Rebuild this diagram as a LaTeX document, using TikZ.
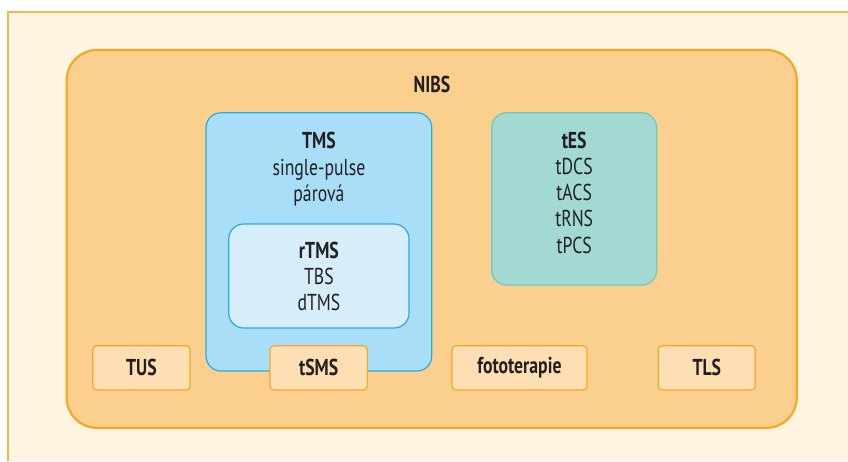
\documentclass[tikz,border=0pt]{standalone}
\usepackage{fontspec}
\setmainfont{PT Sans}[FakeStretch=0.77]
\definecolor{paper}{HTML}{FEF4E0}
\definecolor{frameline}{HTML}{F6B64A}
\definecolor{nibsfill}{HTML}{FBCF8E}
\definecolor{nibsline}{HTML}{F8A624}
\definecolor{tmsfill}{HTML}{A8DEF8}
\definecolor{tmsline}{HTML}{2AAAE2}
\definecolor{rtmsfill}{HTML}{D6EEFA}
\definecolor{tesfill}{HTML}{A2DAD3}
\definecolor{tesline}{HTML}{6DC8BD}
\definecolor{smallfill}{HTML}{FDDFB3}
\definecolor{ink}{HTML}{231F20}
\tikzset{
  box/.style={rectangle, inner sep=0pt, line width=1.5pt},
  nibsbox/.style={box, draw=nibsline, fill=nibsfill, line width=2.2pt, rounded corners=30pt},
  tmsbox/.style={box, draw=tmsline, fill=tmsfill, rounded corners=15pt, line width=1.2pt},
  rtmsbox/.style={box, draw=tmsline, fill=rtmsfill, rounded corners=15pt, line width=1.2pt},
  tesbox/.style={box, draw=tesline, fill=tesfill, rounded corners=15pt, line width=1.2pt},
  smallbox/.style={box, draw=nibsline, fill=smallfill, rounded corners=4pt, line width=1.2pt,
    minimum height=44.3pt, font=\fontsize{23}{27}\selectfont\bfseries, text=ink},
  lbl/.style={anchor=base, inner sep=0pt, font=\fontsize{23}{27}\selectfont, text=ink},
  ttl/.style={lbl, font=\fontsize{23}{27}\selectfont\bfseries},
}
\begin{document}
\begin{tikzpicture}[x=1pt, y=-1pt]
\useasboundingbox (0,0) rectangle (848,461);
% page background and its frame
\fill[paper] (8,12) rectangle (848,461);
\draw[frameline, line width=1.5pt] (8,461) -- (8,12) -- (848,12);

% NIBS container
\node[nibsbox, minimum width=730pt, minimum height=377.7pt] (nibs) at (431.7,238.9) {};
\node[ttl] (nibsT) at (432,92) {NIBS};

% TMS group
\node[tmsbox, minimum width=225.7pt, minimum height=258.3pt] (tms) at (318.9,241.9) {};
\node[ttl] (tmsT) at (318.9,148.3) {TMS};
\node[lbl] (tms1) at (318.9,175) {single-pulse};
\node[lbl] (tms2) at (318.9,201) {párová};

\node[rtmsbox, minimum width=180.3pt, minimum height=104pt] (rtms) at (318.9,276) {};
\node[ttl] (rtmsT) at (318.9,258.3) {rTMS};
\node[lbl] (rtms1) at (318.9,284) {TBS};
\node[lbl] (rtms2) at (318.9,310) {dTMS};

% tES group
\node[tesbox, minimum width=165pt, minimum height=172.3pt] (tes) at (574.2,198.9) {};
\node[ttl] (tesT) at (574.2,148.3) {tES};
\node[lbl] (tes1) at (574.2,174.5) {tDCS};
\node[lbl] (tes2) at (574.2,200.7) {tACS};
\node[lbl] (tes3) at (574.2,226.9) {tRNS};
\node[lbl] (tes4) at (574.2,253.1) {tPCS};

% single methods along the bottom
\node[smallbox, minimum width=97.3pt] (tus) at (141.4,367.9) {TUS};
\node[smallbox, minimum width=97.3pt] (tsms) at (318.7,367.9) {tSMS};
\node[smallbox, minimum width=135pt] (foto) at (519.5,367.9) {fototerapie};
\node[smallbox, minimum width=97pt] (tls) at (706.8,367.9) {TLS};
\end{tikzpicture}
\end{document}
